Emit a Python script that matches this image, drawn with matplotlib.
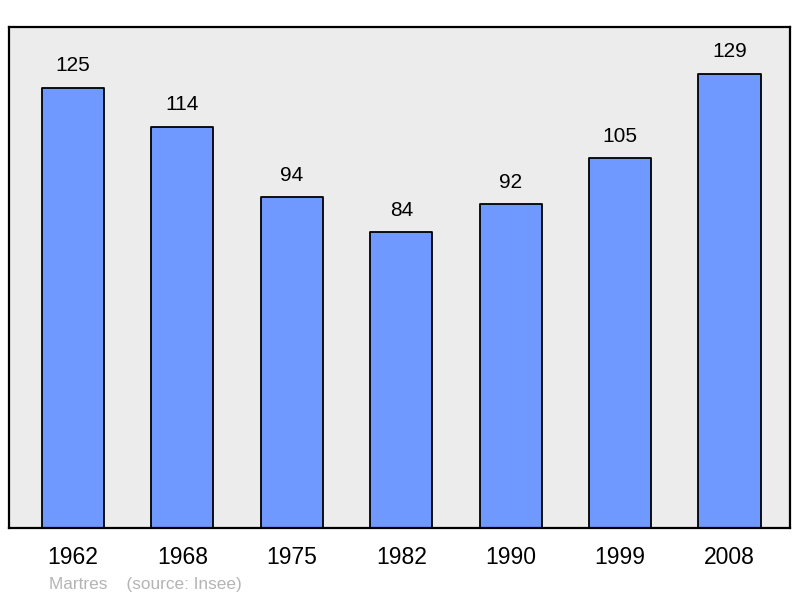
import matplotlib.pyplot as plt

years = ["1962", "1968", "1975", "1982", "1990", "1999", "2008"]
population = [125, 114, 94, 84, 92, 105, 129]

plt.rcParams['font.family'] = ['Liberation Sans', 'DejaVu Sans']

fig = plt.figure(figsize=(8, 5.98), dpi=100)
ax = fig.add_axes([9 / 800, 70 / 598, 781 / 800, 501 / 598])
ax.set_facecolor('#ececec')

x = range(len(years))
bars = ax.bar(x, population, width=0.567, color='#7099ff',
              edgecolor='black', linewidth=1.3, joinstyle='round')

for xi, v in zip(x, population):
    ax.annotate(str(v), (xi, v), xytext=(0, 9), textcoords='offset points',
                ha='center', va='bottom', fontsize=15)

ax.set_xlim(-0.585, len(years) - 1 + 0.553)
ax.set_ylim(0, 142.3)
ax.set_yticks([])
ax.set_xticks(list(x))
ax.set_xticklabels(years, fontsize=16.5)
ax.tick_params(axis='x', length=0, pad=13)
for s in ax.spines.values():
    s.set_linewidth(1.6)

fig.text(49 / 800, 1 - 584 / 598, "Martres    (source: Insee)", color='#b4b4b4',
         fontsize=12.4, va='center', ha='left')

fig.savefig('out.png', dpi=100)
